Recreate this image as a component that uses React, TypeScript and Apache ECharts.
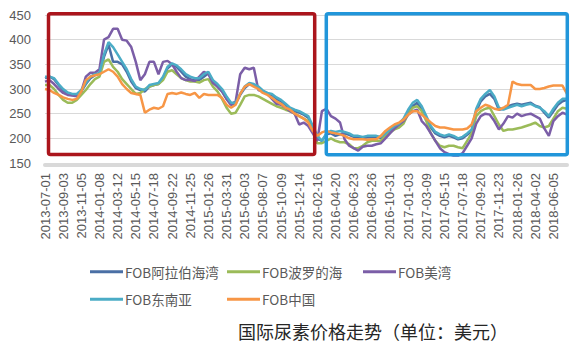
import React, { useEffect, useRef } from 'react';
import * as echarts from 'echarts';

const tickLabels = [
  '2013-07-01', '2013-09-03', '2013-11-05', '2014-01-08', '2014-03-12', '2014-05-15',
  '2014-07-18', '2014-09-22', '2014-11-25', '2015-01-26', '2015-03-31', '2015-06-03',
  '2015-08-07', '2015-10-09', '2015-12-14', '2016-02-16', '2016-04-20', '2016-06-23',
  '2016-08-26', '2016-10-31', '2017-01-03', '2017-03-09', '2017-05-15', '2017-07-18',
  '2017-09-20', '2017-11-23', '2018-01-26', '2018-04-02', '2018-06-05',
];

const seriesNames = ['FOB阿拉伯海湾', 'FOB波罗的海', 'FOB美湾', 'FOB东南亚', 'FOB中国'];

const arabGulf = [
  322, 325, 320, 308, 298, 290, 288, 288, 295, 310,
  322, 328, 332, 365, 390, 355, 355, 350, 335, 315,
  302, 298, 295, 305, 308, 310, 322, 342, 350, 345,
  335, 325, 320, 318, 318, 325, 332, 315, 305, 295,
  280, 268, 270, 288, 302, 310, 308, 302, 295, 290,
  288, 280, 275, 268, 260, 255, 252, 248, 242, 222,
  200, 195, 208, 210, 205, 208, 210, 207, 203, 202,
  200, 202, 202, 203, 200, 207, 215, 222, 228, 236,
  252, 265, 272, 258, 240, 222, 210, 205, 202, 205,
  202, 198, 200, 207, 215, 255, 275, 285, 290, 280,
  258, 260, 265, 268, 270, 268, 270, 272, 266, 263,
  252, 242, 255, 268, 275, 278,
];

const baltic = [
  308, 308, 300, 288, 278, 272, 272, 278, 288, 298,
  310, 320, 325, 355, 360, 345, 335, 320, 310, 300,
  290, 292, 300, 305, 308, 310, 318, 335, 338, 330,
  322, 318, 315, 315, 313, 318, 320, 305, 295, 280,
  262, 250, 252, 268, 285, 288, 288, 285, 280, 275,
  270, 265, 262, 258, 255, 250, 245, 240, 235, 215,
  190, 190, 195, 200, 195, 192, 192, 188, 180, 180,
  185, 192, 195, 195, 195, 205, 212, 218, 222, 230,
  250, 262, 265, 255, 235, 210, 195, 185, 182, 185,
  185, 182, 180, 195, 210, 245, 255, 260, 262, 245,
  228, 215, 218, 218, 220, 222, 225, 228, 232, 225,
  222, 225, 240, 255, 262, 260,
];

const usGulf = [
  315, 318, 310, 300, 292, 288, 287, 285, 295, 325,
  333, 333, 340, 400, 405, 422, 422, 400, 398, 385,
  355, 318, 330, 355, 355, 330, 355, 357, 350, 335,
  322, 318, 318, 316, 325, 335, 330, 312, 305, 295,
  280, 268, 275, 330, 343, 340, 343, 298, 295, 290,
  280, 270, 268, 262, 255, 250, 228, 232, 225, 210,
  195, 255, 260, 245, 240, 232, 198, 185, 180, 175,
  183, 185, 185, 188, 190, 200, 210, 220, 228, 235,
  248, 255, 258, 235, 225, 210, 195, 180, 172, 168,
  165, 165, 170, 185, 200, 230, 245, 250, 248, 235,
  218, 230, 245, 242, 250, 245, 248, 250, 245, 240,
  220, 205, 235, 245, 252, 248,
];

const seAsia = [
  325, 325, 322, 310, 300, 293, 290, 290, 298, 312,
  325, 330, 332, 370, 395, 385, 370, 355, 340, 320,
  305, 300, 298, 308, 310, 312, 325, 345, 352, 348,
  340, 330, 325, 322, 322, 330, 335, 318, 310, 300,
  285, 272, 272, 290, 305, 312, 310, 305, 297, 292,
  290, 283, 278, 270, 262, 258, 255, 250, 245, 225,
  205, 195, 210, 215, 213, 215, 213, 210, 205, 205,
  203, 205, 205, 205, 203, 210, 218, 225, 230, 240,
  258, 272, 278, 265, 245, 225, 213, 208, 205, 208,
  205, 200, 203, 210, 218, 260, 280, 290, 298, 285,
  262, 258, 262, 265, 268, 265, 268, 270, 265, 262,
  255, 245, 260, 272, 280, 280,
];

const china = [
  300, 298, 292, 288, 283, 280, 278, 280, 295, 318,
  325, 328, 330, 335, 340, 335, 325, 310, 300, 292,
  290, 288, 252, 258, 262, 260, 265, 290, 292, 290,
  293, 290, 288, 292, 282, 290, 288, 288, 288, 282,
  268, 262, 268, 290, 305, 310, 305, 300, 292, 288,
  282, 275, 270, 262, 258, 250, 245, 240, 232, 215,
  205, 212, 215, 212, 210, 208, 205, 200, 198, 198,
  198, 197, 198, 198, 205, 215, 222, 228, 232, 238,
  248, 255, 255, 248, 240, 232, 225, 222, 222, 220,
  218, 218, 218, 220, 228, 255, 262, 268, 265, 260,
  258, 262, 268, 315, 310, 308, 308, 308, 300, 300,
  302, 305, 307, 307, 307, 290,
];

const seriesData = [arabGulf, baltic, usGulf, seAsia, china];
const colors = ['#4a6fa5', '#9bbb59', '#7b5ea7', '#4bacc6', '#f79646'];

const DAY = 86400000;
function buildCategories(): string[] {
  const fmt = (t: number) => new Date(t).toISOString().slice(0, 10);
  const times = tickLabels.map((d) => Date.parse(d + 'T00:00:00Z'));
  const out: string[] = [];
  for (let i = 0; i < times.length; i++) {
    out.push(tickLabels[i]);
    const next = i < times.length - 1 ? times[i + 1] : times[i] + 64 * DAY;
    for (let j = 1; j < 4; j++) {
      out.push(fmt(times[i] + Math.round(((next - times[i]) * j) / 4 / DAY) * DAY));
    }
  }
  return out;
}

const categories = buildCategories();

export default function App() {
  const ref = useRef<HTMLDivElement>(null);
  useEffect(() => {
    if (!ref.current) return;
    const chart = echarts.init(ref.current, undefined, { renderer: 'svg' });
    const cjk = '"Noto Sans CJK SC", "Liberation Sans", sans-serif';
    const legendBase = {
      orient: 'vertical' as const,
      top: 265,
      itemGap: 14,
      itemWidth: 33,
      itemHeight: 3,
      icon: 'rect',
      padding: 0,
      textStyle: { fontSize: 13.5, color: '#595959', fontFamily: cjk, padding: [0, 0, 0, -3] },
    };
    chart.setOption({
      animation: false,
      backgroundColor: '#ffffff',
      title: {
        text: '国际尿素价格走势（单位：美元）',
        left: 238,
        top: 322,
        padding: 0,
        textStyle: { fontSize: 18, fontWeight: 'normal', color: '#262626', fontFamily: cjk },
      },
      legend: [
        { ...legendBase, left: 90, data: [seriesNames[0], seriesNames[3]] },
        { ...legendBase, left: 227, data: [seriesNames[1], seriesNames[4]] },
        { ...legendBase, left: 363, data: [seriesNames[2]] },
      ],
      grid: { left: 45, right: 13, top: 15, bottom: 189, containLabel: false },
      xAxis: {
        type: 'category',
        data: categories,
        boundaryGap: false,
        offset: 2,
        axisLine: { show: true, lineStyle: { color: '#d9d9d9', width: 4 } },
        axisTick: { show: false },
        axisLabel: {
          interval: 3,
          rotate: 90,
          margin: 8,
          fontSize: 13,
          color: '#595959',
          fontFamily: '"Liberation Sans", sans-serif',
        },
        splitLine: { show: false },
      },
      yAxis: {
        type: 'value',
        min: 150,
        max: 450,
        interval: 50,
        axisLine: { show: false },
        axisTick: { show: false },
        axisLabel: {
          margin: 14,
          fontSize: 13,
          color: '#595959',
          fontFamily: '"Liberation Sans", sans-serif',
        },
        splitLine: { lineStyle: { color: '#d9d9d9', width: 1 } },
      },
      series: seriesNames.map((name, i) => ({
        name,
        type: 'line',
        data: seriesData[i],
        symbol: 'none',
        showSymbol: false,
        color: colors[i],
        lineStyle: { width: 2.5, color: colors[i] },
        z: 2 + i,
      })),
      graphic: [
        {
          type: 'rect',
          z: 100,
          shape: { x: 48.5, y: 13.7, width: 266.2, height: 140.8, r: 2 },
          style: { fill: 'none', stroke: '#ab151c', lineWidth: 3.5 },
        },
        {
          type: 'rect',
          z: 100,
          shape: { x: 326.3, y: 13.7, width: 241, height: 141, r: 2 },
          style: { fill: 'none', stroke: '#2196da', lineWidth: 3.5 },
        },
      ],
    });
    return () => chart.dispose();
  }, []);
  return (
    <div
      ref={ref}
      style={{ position: 'fixed', left: 0, top: 0, width: 580, height: 352, background: '#fff' }}
    />
  );
}
